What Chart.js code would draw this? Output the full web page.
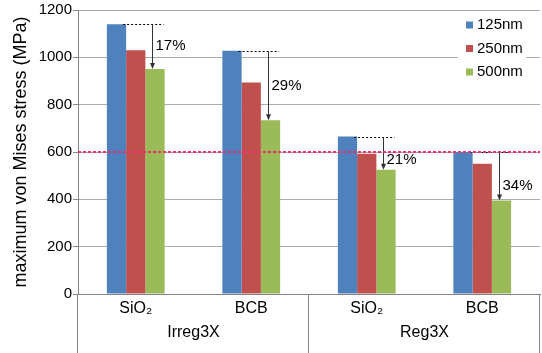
<!DOCTYPE html>
<html>
<head>
<meta charset="utf-8">
<script src="https://cdn.jsdelivr.net/npm/chart.js@4"></script>
<style>
  html, body { margin: 0; padding: 0; background: #fff; }
  canvas { display: block; }
</style>
</head>
<body>
<canvas id="chart" width="542" height="353"></canvas>
<script>
// Max von Mises stress per dielectric / layout, for three via sizes
const categories = ['SiO₂', 'BCB', 'SiO₂', 'BCB'];
const groups = ['Irreg3X', 'Reg3X'];          // each spans two categories
const seriesNames = ['125nm', '250nm', '500nm'];
const stress125 = [1140, 1028, 665, 600];
const stress250 = [1030, 894, 593, 550];
const stress500 = [951, 734, 525, 395];
const yTicks = [0, 200, 400, 600, 800, 1000, 1200];
const limitStress = 600;

const FONT = "'Liberation Sans', Arial, Helvetica, sans-serif";
const colors = ['#4F81BD', '#C0504D', '#9BBB59'];
const axisColor = '#868686';
const gridColor = '#ababab';

// where along each arrow the reduction label sits (0 = top, 1 = tip)
const labelAt = [0.49, 0.5, 0.7, 0.7];

const reductionMarks = {
  id: 'reductionMarks',
  afterDatasetsDraw(chart) {
    const ctx = chart.ctx;
    const big = chart.getDatasetMeta(0).data;
    const small = chart.getDatasetMeta(2).data;
    ctx.save();
    big.forEach((b, i) => {
      const s = small[i];
      const yTop = Math.round(b.y) + 0.5;
      const x0 = b.x + b.width / 2 - 3;
      const x1 = s.x + s.width / 2 - 1;
      // dotted reference at the largest bar's height
      ctx.strokeStyle = '#000';
      ctx.lineWidth = 1;
      ctx.setLineDash([2, 2]);
      ctx.beginPath();
      ctx.moveTo(x0, yTop);
      ctx.lineTo(x1, yTop);
      ctx.stroke();
      // arrow down to the smallest bar
      ctx.setLineDash([]);
      const ax = Math.round(s.x - 3) + 0.5;
      const tip = s.y;
      ctx.strokeStyle = '#333';
      ctx.beginPath();
      ctx.moveTo(ax, yTop);
      ctx.lineTo(ax, tip - 5);
      ctx.stroke();
      ctx.fillStyle = '#333';
      ctx.beginPath();
      ctx.moveTo(ax - 2.5, tip - 6);
      ctx.lineTo(ax + 2.5, tip - 6);
      ctx.lineTo(ax, tip);
      ctx.closePath();
      ctx.fill();
      // percentage reduction
      const pct = Math.round((1 - stress500[i] / stress125[i]) * 100);
      ctx.fillStyle = '#000';
      ctx.font = '15px ' + FONT;
      ctx.textAlign = 'left';
      ctx.textBaseline = 'middle';
      ctx.fillText(pct + '%', ax + 3, b.y + (s.y - b.y) * labelAt[i]);
    });
    // limit line
    const y = chart.scales.y.getPixelForValue(limitStress);
    const area = chart.chartArea;
    ctx.strokeStyle = '#F2336A';
    ctx.lineWidth = 2;
    ctx.setLineDash([3, 2]);
    ctx.beginPath();
    ctx.moveTo(area.left, Math.round(y));
    ctx.lineTo(area.right, Math.round(y));
    ctx.stroke();
    ctx.restore();
  }
};

const groupAxis = {
  id: 'groupAxis',
  afterDraw(chart) {
    const ctx = chart.ctx;
    const xs = chart.scales.x;
    const area = chart.chartArea;
    const span = categories.length / groups.length;
    const half = xs.width / categories.length / 2;
    ctx.save();
    ctx.strokeStyle = axisColor;
    ctx.lineWidth = 1;
    const bottom = chart.height;
    const edges = [];
    groups.forEach((g, gi) => {
      const left = xs.getPixelForValue(gi * span) - half;
      const right = xs.getPixelForValue(gi * span + span - 1) + half;
      edges.push(left, right);
      ctx.fillStyle = '#000';
      ctx.font = '16px ' + FONT;
      ctx.textAlign = 'center';
      ctx.textBaseline = 'middle';
      ctx.fillText(g, (left + right) / 2, 333);
    });
    [...new Set(edges.map(Math.round))].forEach(x => {
      ctx.beginPath();
      ctx.moveTo(x - 0.5, area.bottom);
      ctx.lineTo(x - 0.5, bottom);
      ctx.stroke();
    });
    // legend
    ctx.fillStyle = '#fff';
    ctx.fillRect(458, 12, 68, 76);
    seriesNames.forEach((name, i) => {
      const cy = 25 + i * 23.5;
      ctx.fillStyle = colors[i];
      ctx.fillRect(466, cy - 3.5, 7, 7);
      ctx.fillStyle = '#000';
      ctx.font = '15px ' + FONT;
      ctx.textAlign = 'left';
      ctx.textBaseline = 'middle';
      ctx.fillText(name, 477, cy);
    });
    ctx.restore();
  }
};

new Chart(document.getElementById('chart'), {
  type: 'bar',
  data: {
    labels: categories,
    datasets: [stress125, stress250, stress500].map((d, i) => ({
      label: seriesNames[i],
      data: d,
      backgroundColor: colors[i],
      borderWidth: 0,
      categoryPercentage: 0.5,
      barPercentage: 1
    }))
  },
  options: {
    responsive: false,
    animation: false,
    devicePixelRatio: 1,
    layout: { padding: { top: 0, right: 2, left: 0, bottom: 0 } },
    plugins: { legend: { display: false }, tooltip: { enabled: false } },
    scales: {
      x: {
        grid: { display: false, drawTicks: false, tickLength: 0 },
        border: { color: axisColor },
        ticks: { color: '#000', font: { family: FONT, size: 16 }, padding: 5 },
        afterFit(s) { s.height = 59; }
      },
      y: {
        min: 0,
        max: 1200,
        afterBuildTicks(s) { s.ticks = yTicks.map(v => ({ value: v })); },
        grid: { color: gridColor, tickColor: axisColor, tickLength: 5 },
        border: { color: axisColor },
        ticks: {
          color: '#000',
          font: { family: FONT, size: 15 },
          padding: 1,
          callback: v => String(v)
        },
        title: {
          display: true,
          text: 'maximum von Mises stress (MPa)',
          color: '#000',
          font: { family: FONT, size: 18 },
          padding: { top: 10, bottom: 0 }
        },
        afterFit(s) { s.width = 78; }
      }
    }
  },
  plugins: [reductionMarks, groupAxis]
});
</script>
</body>
</html>
